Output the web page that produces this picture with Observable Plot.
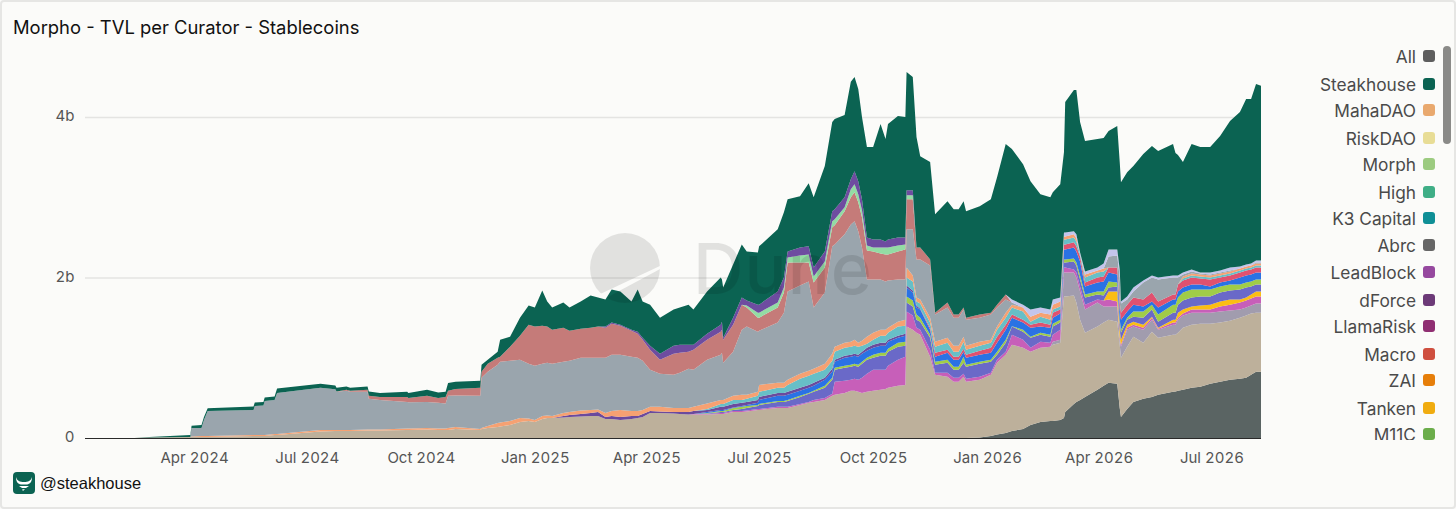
<!DOCTYPE html>
<html>
<head>
<meta charset="utf-8">
<script src="https://cdn.jsdelivr.net/npm/d3@7"></script>
<script src="https://cdn.jsdelivr.net/npm/@observablehq/plot@0.6"></script>
<style>
html,body{margin:0;padding:0;background:#fbfbf9;}
#frame{position:relative;width:1456px;height:509px;box-sizing:border-box;border:2px solid #e6e6e4;border-radius:4px;overflow:hidden;font-family:Inter,sans-serif;background:#fbfbf9;}
#chart{position:absolute;left:-2px;top:-2px;width:1456px;height:509px;}
#chart svg{display:block;max-width:none;}
#title{position:absolute;left:11px;top:14px;font-size:18.4px;line-height:22px;color:#111;white-space:nowrap;}
#legend{position:absolute;left:1200px;top:42px;width:234px;height:396px;overflow:hidden;}
.row{position:absolute;right:0;display:flex;align-items:center;height:22px;font-size:17.3px;color:#4a4a4a;white-space:nowrap;}
.sw{display:inline-block;width:12px;height:12px;border-radius:3px;margin-left:7px;}
#bar{position:absolute;left:1441px;top:44px;width:8px;height:98px;border-radius:4px;background:#8a8a88;}
#credit{position:absolute;left:11px;top:470px;display:flex;align-items:center;font:16.5px "Liberation Sans",sans-serif;color:#111;}
#credit span{margin-left:5px;}
#mark{position:absolute;left:-2px;top:-2px;pointer-events:none;}
#dune{position:absolute;left:691px;top:222px;font:500 70px Inter,sans-serif;color:rgba(0,0,0,.1);pointer-events:none;line-height:90px;letter-spacing:1px;}
</style>
</head>
<body>
<div id="frame">
  <div id="chart"></div>
  <div id="title"></div>
  <div id="legend"></div>
  <div id="bar"></div>
  <svg id="mark" width="1456" height="509">
    <defs><mask id="slit"><rect width="1456" height="509" fill="#fff"/><path d="M596 296 L662 265 L662 268 L606 298 Z" fill="#000"/></mask></defs>
    <circle cx="625" cy="268" r="35" fill="rgba(0,0,0,.1)" mask="url(#slit)"/>
  </svg>
  <div id="dune">Dune</div>
  <div id="credit">
    <svg width="22" height="22" viewBox="0 0 22 22"><rect width="22" height="22" rx="4" fill="#0b6352"/><path d="M3 5 C4 9 7 10 11 10 C15 10 18 9 19 5 C19 10 17 12 14 12.5 L8 12.5 C5 12 3 10 3 5Z" fill="#fff"/><path d="M6 14 L16 14 L13 16 L9 16Z M9 17.5 L12 17 L10 19Z" fill="#fff"/></svg>
    <span id="handle"></span>
  </div>
</div>
<script>
const chartTitle = "Morpho - TVL per Curator - Stablecoins";
const handle = "@steakhouse";

// Legend as listed in the chart (the list scrolls; only these rows are visible)
const legendNames = ["All","Steakhouse","MahaDAO","RiskDAO","Morph","High","K3 Capital","Abrc","LeadBlock","dForce","LlamaRisk","Macro","ZAI","Tanken","M11C"];
const legendColors = ["#5e5e5e","#0b6352","#e9a96e","#e8dd96","#9ccb80","#3fae86","#0f8f96","#666666","#96499f","#6c3a78","#8f2e72","#cf4f3f","#e67e0a","#f0ac10","#6bad4b"];
const legendRows = [14,42,68,96,122,150,176,203,230,258,284,312,338,366,392];

const yTicks = [0,2e9,4e9];
const xTickDates = ["2024-04-01","2024-07-01","2024-10-01","2025-01-01","2025-04-01","2025-07-01","2025-10-01","2026-01-01","2026-04-01","2026-07-01"];

// Sample dates, as days since 2024-01-01
const days = [3,43,55,88,89,97,99,102,139,140,
147,148,156,158,193,205,206,214,217,231,
232,241,263,264,279,288,294,296,302,322,
323,328,336,338,346,354,361,366,372,376,
380,389,394,403,411,417,423,428,435,444,
449,453,459,467,478,483,490,494,505,516,
517,518,526,533,537,546,547,562,567,570,
580,587,591,600,606,608,616,621,624,627,
630,634,639,645,649,651,659,665,666,671,
674,677,685,689,699,704,708,712,714,725,
734,739,746,751,760,766,774,782,784,790,
793,794,801,803,806,810,820,825,829,836,
838,839,844,849,857,864,869,881,883,885,
889,896,903,911,919,927,935,940,944,948,952];

const none = n => new Array(n).fill(0);

// Running stack level reached by each layer, $ millions. 0 = layer absent.
const darkTop = [...none(99),6,25,44,62,88,112,162,200,212,212,225,250,325,425,450,475,512,600,650,688,675,375,262,362,450,488,512,538,575,581,588,600,625,638,675,700,725,738,750,788,825,825];
const beigeTop = [0,0,6,12,12,12,12,12,25,25,
25,25,38,38,81,88,88,88,88,94,
94,94,100,100,106,100,100,100,112,100,
112,125,138,144,162,200,212,200,238,250,
250,256,262,269,275,275,238,238,225,238,
250,262,312,312,306,300,294,294,294,300,
300,300,325,325,331,350,350,375,375,375,
412,438,450,475,525,538,562,588,588,575,
562,575,588,600,612,625,650,662,1388,1350,
1312,1288,1012,788,762,700,700,762,700,725,
788,938,1038,1162,1125,1075,1125,1138,1162,1188,
1762,1762,1775,1688,1475,1312,1388,1438,1475,1450,
1162,1000,1138,1262,1188,1325,1250,1288,1288,1312,
1375,1412,1425,1425,1438,1462,1500,1525,1550,1562,1562];
const lavenderTop = [...none(108),1200,1225,2062,2062,2062,2000,1825,1600,1688,1638,1638,1638,1225,1138,1350,1388,1350,1475,1350,1412,1412,1475,1525,1562,1562,1562,1575,1588,1600,1625,1650,1675,1675];
const magentaTop = [...none(57),300,300,312,312,312,338,338,344,362,362,
388,388,388,425,450,475,500,550,700,712,
725,738,725,750,800,850,850,850,900,975,
1012,1575,1525,1375,1350,1100,812,812,750,750,
800,738,762,812,975,1075,1288,1225,1125,1200,
1188,1288,1350,2125,2125,2100,2062,1888,1662,1725,
1712,1725,1700,1250,1162,1375,1412,1375,1500,1362,
1438,1438,1500,1550,1600,1600,1600,1638,1662,1688,
1712,1738,1762,1762];
const yellowTop = [...none(118),1825,1825,1350,1225,1412,1450,1412,1512,1375,1475,1475,1562,1600,1638,1650,1662,1700,1725,1725,1750,1788,1825,1825];
const slateTop = [...none(58),306,325,325,325,350,362,375,400,412,450,
450,462,512,550,575,625,725,850,875,888,
900,888,925,975,1000,1025,1025,1075,1138,1150,
1688,1638,1475,1450,1250,912,938,850,850,938,
888,925,950,1038,1188,1388,1325,1250,1288,1262,
1388,1438,2188,2188,2200,2150,1975,1750,1788,1775,
1875,1888,1438,1312,1475,1512,1500,1600,1450,1562,
1562,1662,1712,1750,1762,1762,1812,1838,1850,1875,
1888,1912,1912];
const limeTop = [...none(58),312,338,338,338,375,388,400,412,425,462,
462,475,525,562,588,650,750,875,900,912,
925,912,950,1000,1038,1062,1062,1112,1188,1200,
1762,1712,1538,1500,1288,950,975,888,888,1012,
912,950,975,1075,1225,1394,1350,1262,1312,1288,
1425,1475,2225,2225,2238,2188,2025,1788,1825,1825,
1950,1938,1475,1350,1500,1575,1575,1662,1538,1662,
1662,1750,1812,1850,1850,1850,1888,1912,1912,1938,
1950,1975,1975];
const blueTop = [...none(58),325,350,350,350,381,400,412,438,475,525,
525,538,588,625,650,725,825,950,1000,1012,
1025,1012,1050,1088,1125,1150,1150,1200,1250,1275,
1875,1812,1625,1600,1350,1012,1062,975,975,1075,
1000,1038,1062,1188,1350,1500,1438,1375,1388,1375,
1500,1550,2350,2350,2375,2325,2200,1888,1938,1950,
2062,2038,1600,1475,1575,1662,1638,1700,1625,1725,
1725,1825,1875,1912,1912,1888,1938,1962,2000,2025,
2038,2062,2062];
const purpleTop = [...none(41),275,288,300,312,325,262,275,262,275,275,
300,338,331,325,325,325,338,350,388,388,
388,425,438,450,475,512,562,562,575,625,
662,688,750,862,975,1025,1038,1050,1038,1075,
1125,1162,1188,1188,1225,1275,1300,1900,1838,1650,1612,...none(49)];
const crimsonTop = [...none(92),1375,1062,1100,1012,1012,1112,1038,1088,1125,1262,
1412,1538,1475,1412,1438,1412,1562,1600,2412,2412,
2438,2388,2262,1938,2000,2012,2125,2125,1688,1562,
1662,1750,1725,1812,1700,1788,1788,1912,1962,2000,
1988,1975,2000,2025,2062,2088,2100,2125,2125];
const cyanTop = [...none(58),362,425,425,425,475,475,488,525,575,625,
625,662,738,775,800,850,962,1075,1125,1138,
1150,1138,1150,1175,1225,1275,1275,1312,1388,1400,
2000,1950,1700,1675,1438,1138,1188,1075,1075,1200,
1100,1150,1188,1350,1500,1625,1575,1450,1512,1475,
1600,1638,2475,2475,2500,2450,2288,2000,2062,2075,
...none(12),1988,2025,2012,2000,2025,2050,2088,2112,2125,2150,2150];
const orangeTop = [0,0,0,12,19,25,25,25,38,38,
38,38,50,50,100,100,100,100,100,106,
106,106,119,119,125,119,119,125,138,112,
125,150,188,194,212,250,244,225,275,281,
275,312,325,344,350,356,312,338,350,338,
338,350,388,388,375,375,375,388,431,475,
475,475,525,538,538,575,662,688,688,725,
800,838,862,925,1050,1138,1188,1200,1225,1188,
1212,1262,1312,1350,1350,1375,1450,1475,2125,2025,
1750,1725,1500,1200,1250,1150,1150,1262,1150,1200,
1225,1388,1562,1662,1625,1512,1562,1538,1662,1700,
2512,2512,2538,2488,2288,2038,2088,2112,
...none(12),2012,2050,2038,2025,2050,2075,2112,2138,2150,2175,2175];
const grayTop = [0,0,0,12,125,125,225,338,350,400,
406,462,475,562,625,606,575,588,575,575,
488,475,450,444,450,438,431,525,531,525,
750,825,912,950,962,975,925,900,925,938,
925,950,962,1000,1000,1000,1000,1038,1038,1012,
1000,962,850,800,788,812,862,850,975,1038,
1062,938,1075,1350,1388,1325,1338,1438,1562,1825,
1900,1950,1625,1812,2388,2412,2538,2662,2700,2575,
2375,1975,1975,1975,1950,1962,1975,1975,2600,2600,
2225,2225,2150,1538,1625,1500,1500,1600,1475,1500,
1538,1625,1725,1688,1625,1512,
...none(12),2262,2275,2000,1675,1725,1825,1938,2000,1975,2000,2000,2000,2038,2075,2050,2038,2062,2088,2112,2138,2150,2188,2188];
const salmonTop = [0,0,0,0,125,125,225,338,350,400,
406,462,475,562,625,606,581,600,588,600,
525,512,512,500,525,500,512,588,612,625,
825,925,1000,1012,1138,1275,1412,1388,1400,1388,
1350,1375,1338,1362,1375,1388,1375,1425,1400,1338,
1300,1225,1100,975,1050,1062,1075,1100,1225,1325,
1350,1225,1412,1662,1625,1500,1500,1625,1812,2188,
2188,2188,1938,2125,2625,2650,2825,3000,3062,2938,
2750,2338,2325,2300,2288,2288,2325,2350,2975,2975,
2375,2375,2225,1562,1688,1538,1538,1625,1500,1538,
1562,1662,1788,...none(38)];
const mintTop = [...none(64),1650,1562,1562,1688,1875,2250,2275,2288,2012,2200,2700,2725,2875,3100,3162,3038,2838,2400,2375,2375,2375,2375,2400,2412,3025,3025,...none(51)];
const violetTop = [...none(46),1388,1438,1412,1350,1325,1250,1150,1050,1150,1162,
1162,1162,1300,1412,1450,1250,1500,1750,1712,1662,
1662,1825,2000,2325,2375,2388,2125,2325,2825,2850,
3000,3225,3325,3200,2975,2500,2475,2475,2450,2475,
2500,2500,3088,3088,...none(51)];
const paleTop = [...none(103),1725,1662,1600,1625,1600,1725,1750,2562,2562,2575,2538,2312,2075,2125,2175,2350,2350,2100,1700,1762,1875,1962,2025,2000,2025,2025,2025,2062,2100,2062,2062,2088,2125,2138,2162,2175,2212,2212];
const steakTop = [0,0,12,38,154,162,262,371,391,441,
450,504,516,616,675,654,625,641,625,641,
579,562,575,562,600,566,575,684,700,712,
912,975,1075,1225,1262,1500,1650,1625,1838,1700,
1625,1688,1625,1700,1775,1750,1725,1850,1825,1700,
1850,1700,1662,1500,1600,1625,1662,1600,1825,2000,
1975,1875,2162,2412,2325,2312,2388,2600,2812,2975,
3012,3175,3000,3388,3938,3975,4025,4438,4500,4350,
4000,3625,3625,3912,3725,3912,4012,4000,4562,4500,
3750,3512,3438,2788,2950,2850,2850,2950,2825,2888,
2975,3250,3662,3600,3412,3200,3038,3000,3062,3162,
3562,4188,4338,4338,3938,3700,3725,3738,3825,3888,
3438,3188,3312,3388,3538,3638,3575,3662,3550,3525,
3438,3662,3625,3625,3762,3950,4062,4225,4225,4412,4388];

// Stack order, bottom to top
const layerNames = ["dark","beige","lavender","magenta","yellow","slate","lime","blue","purple","crimson","cyan","orange","gray","salmon","mint","violet","pale","steak"];
const layerColors = ["#5a6463","#bdb09b","#a19cae","#c75fb9","#fbbd14","#6a69c8","#a0cc48","#2a72e4","#6b4a9d","#e0516f","#67bfc7","#f6a172","#9aa5ad","#c57b79","#93dca4","#6e4ca0","#c3c5ec","#0b6352"];
const layerTops = [darkTop,beigeTop,lavenderTop,magentaTop,yellowTop,slateTop,limeTop,blueTop,purpleTop,crimsonTop,cyanTop,orangeTop,grayTop,salmonTop,mintTop,violetTop,paleTop,steakTop];

layerTops.forEach((a,i)=>{ if(a.length!==days.length) throw new Error(layerNames[i]+" has "+a.length+" values, expected "+days.length); });

// Each layer's own value is the step it adds to the stack
const rows = [];
days.forEach((day,i)=>{
  const date = new Date(Date.UTC(2024,0,1+day));
  let level = 0;
  layerTops.forEach((tops,k)=>{
    const t = tops[i];
    const value = t>level ? (t-level)*1e6 : 0;
    if(t>level) level = t;
    rows.push({date,layer:layerNames[k],value});
  });
});

const chart = Plot.plot({
  width:1456,height:509,
  marginLeft:85,marginRight:195,marginTop:36.75,marginBottom:71,
  style:{background:"transparent",fontFamily:"Inter,sans-serif"},
  x:{type:"utc",domain:[new Date(Date.UTC(2024,0,4)),new Date(Date.UTC(2026,7,10))]},
  y:{domain:[0,5e9]},
  color:{domain:layerNames,range:layerColors},
  marks:[
    Plot.gridY([2e9,4e9],{stroke:"#e4e4e2",strokeOpacity:1,strokeWidth:1.5}),
    Plot.areaY(rows,{x:"date",y:"value",z:"layer",fill:"layer",order:layerNames,curve:"linear"}),
    Plot.ruleY([0],{stroke:"#2a2a2a",strokeWidth:1.2}),
    Plot.axisY({ticks:yTicks,tickSize:0,tickPadding:11,label:null,fontSize:15,color:"#555",dy:-1,tickFormat:d=>d===0?"0":(d/1e9)+"b"}),
    Plot.axisX({ticks:xTickDates.map(d=>new Date(d)),tickSize:0,tickPadding:14,label:null,fontSize:15,color:"#555",tickFormat:d3.utcFormat("%b %Y")})
  ]
});
document.getElementById("chart").appendChild(chart);
document.getElementById("title").textContent = chartTitle;
document.getElementById("handle").textContent = handle;
const legend = document.getElementById("legend");
legendNames.forEach((n,i)=>{
  const r = document.createElement("div");
  r.className="row";
  r.style.top=(legendRows[i]-13)+"px";
  r.style.right="1px";
  r.innerHTML='<span></span><i class="sw"></i>';
  r.firstChild.textContent=n;
  r.lastChild.style.background=legendColors[i];
  legend.appendChild(r);
});
</script>
</body>
</html>
